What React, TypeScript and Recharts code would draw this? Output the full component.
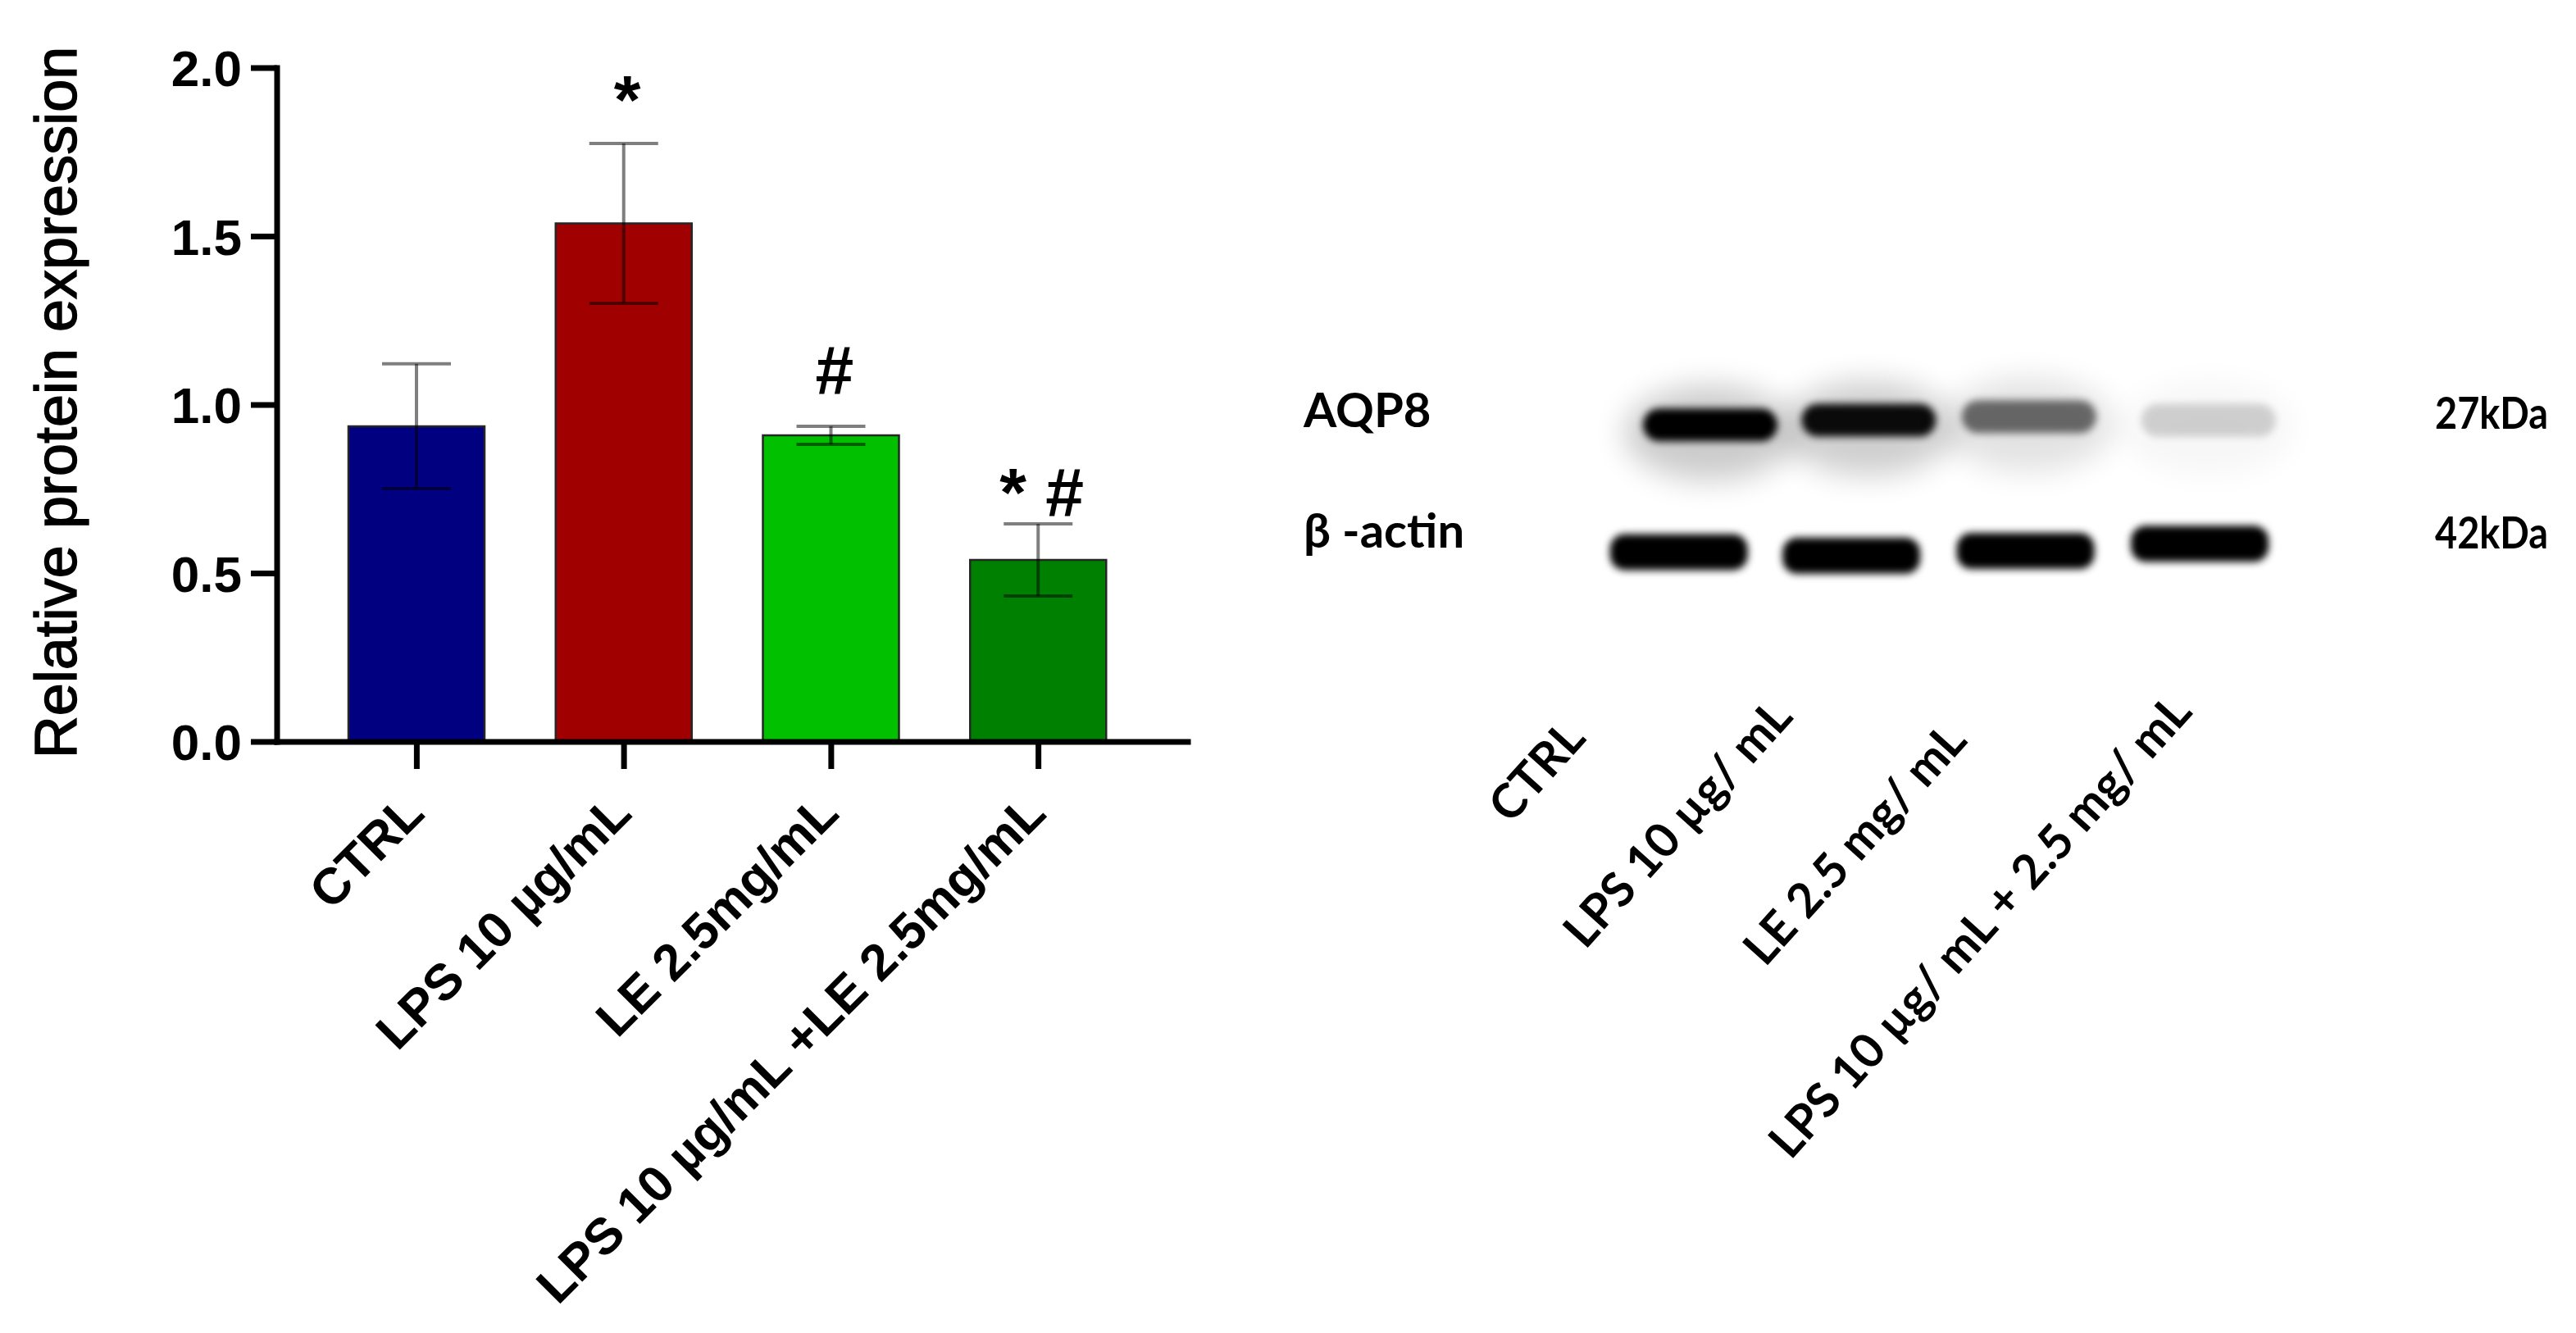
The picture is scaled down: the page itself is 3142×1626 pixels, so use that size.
import {
    ComposedChart, Bar, ErrorBar, Scatter, ScatterChart,
    XAxis, YAxis, Cell, Label
} from "recharts"

// bar chart values
const groups = ["CTRL", "LPS 10 µg/mL", "LE 2.5mg/mL", "LPS 10 µg/mL +LE 2.5mg/mL"]
const means = [0.937, 1.539, 0.91, 0.54]
const errors = [0.185, 0.237, 0.027, 0.107]
const signs = ["", "*", "#", "* #"]
const signHeights = [null, 1.835, 1.032, 0.669]
const yTicks = [0, 0.5, 1.0, 1.5, 2.0]

// western blot
const lanes = ["CTRL", "LPS 10 µg/ mL", "LE 2.5 mg/ mL", "LPS 10 µg/ mL + 2.5 mg/ mL"]
const laneTicks = [0.5, 1.5, 2.5, 3.5]
const aqp8Lane = [0.64, 1.55, 2.47, 3.5]
const aqp8Row = [1.46, 1.5, 1.53, 1.5]
const aqp8Density = [1, 0.95, 0.55, 0.16]
const actinLane = [0.46, 1.45, 2.45, 3.45]
const actinRow = [0.39, 0.36, 0.4, 0.46]
const actinDensity = [1, 1, 1, 1]
const proteins = ["AQP8", "β -actin"]
const weights = ["27kDa", "42kDa"]
const proteinRows = [1.58, 0.57]

const BAR_COLORS = ["#000080", "#a00000", "#00c000", "#008000"]
const ARIAL = "'Liberation Sans', Arial, Helvetica, sans-serif"
const CALIBRI = "Lato, 'Open Sans', sans-serif"
const LANE_DX = [-120, -80, -80, -18]
const LANE_Y = [522, 496, 525, 490]

const barData = groups.map((name, i) => ({
    name, mean: means[i], err: errors[i], sign: signs[i], signY: signHeights[i]
}))

const bandsAqp8 = lanes.map((_, i) => ({ x: aqp8Lane[i], y: aqp8Row[i], density: aqp8Density[i] }))
const bandsActin = lanes.map((_, i) => ({ x: actinLane[i], y: actinRow[i], density: actinDensity[i] }))

function CategoryTick({ x, payload }: any) {
    return (
        <text transform={`translate(${x + 12},995) rotate(-45)`} textAnchor="end"
            fontFamily={ARIAL} fontWeight={700} fontSize={62} fill="#000">
            {payload.value}
        </text>
    )
}

function SignShape({ cx, cy, payload }: any) {
    if (!payload.sign) return <g />
    return (
        <text x={cx + 4} y={cy} textAnchor="middle" fontFamily={ARIAL}
            fontWeight={700} fontSize={84} fill="#000">
            {payload.sign}
        </text>
    )
}

function YTitle() {
    return (
        <text transform="translate(93,491) rotate(-90)" textAnchor="middle"
            fontFamily={ARIAL} fontSize={72} fill="#000" stroke="#000" strokeWidth={1.4}>
            Relative protein expression
        </text>
    )
}

function Aqp8Band({ cx, cy, payload }: any) {
    const d = payload.density
    return (
        <g>
            <ellipse cx={cx} cy={cy + 10} rx={105} ry={58} fill="#000" opacity={0.2 * d} filter="url(#haze)" />
            <rect x={cx - 82} y={cy - 20} width={164} height={40} rx={20} fill="#000" opacity={d} filter="url(#soft)" />
        </g>
    )
}

function ActinBand({ cx, cy, payload }: any) {
    return (
        <rect x={cx - 84} y={cy - 22} width={168} height={44} rx={18}
            fill="#000" opacity={payload.density} filter="url(#soft)" />
    )
}

function RowTick({ y, payload }: any) {
    const i = proteinRows.indexOf(payload.value)
    return (
        <g fontFamily={CALIBRI} fontWeight={700} fill="#000">
            <text x={30} y={y} dy="0.35em" fontSize={58}>{proteins[i]}</text>
            <text x={1410} y={y} dy="0.4em" fontSize={54} textLength={138} lengthAdjust="spacingAndGlyphs">
                {weights[i]}
            </text>
        </g>
    )
}

function LaneTick({ x, payload }: any) {
    const i = laneTicks.indexOf(payload.value)
    return (
        <text transform={`translate(${x + LANE_DX[i]},${LANE_Y[i]}) rotate(-48)`} textAnchor="end"
            fontFamily={CALIBRI} fontWeight={700} fontSize={58} fill="#000">
            {lanes[i]}
        </text>
    )
}

export default function App() {
    return (
        <div style={{ position: "absolute", left: 0, top: 0, width: 3142, height: 1626, background: "#fff" }}>
            <div style={{ position: "absolute", left: 0, top: 0 }}>
                <ComposedChart width={1500} height={1626} data={barData}
                    margin={{ top: 83, right: 51, bottom: 0, left: 0 }}>
                    <XAxis dataKey="name" height={721} padding={{ left: 44, right: 56 }}
                        interval={0} tickSize={33}
                        axisLine={{ stroke: "#000", strokeWidth: 7, strokeLinecap: "square" }}
                        tickLine={{ stroke: "#000", strokeWidth: 7 }}
                        tick={CategoryTick} />
                    <YAxis width={338} domain={[0, 2]} ticks={yTicks} interval={0}
                        tickFormatter={(v: number) => v.toFixed(1)}
                        tickSize={32} tickMargin={11}
                        axisLine={{ stroke: "#000", strokeWidth: 7, strokeLinecap: "square" }}
                        tickLine={{ stroke: "#000", strokeWidth: 7 }}
                        tick={{ fontFamily: ARIAL, fontWeight: 700, fontSize: 62, fill: "#000" }}>
                        <Label content={YTitle} />
                    </YAxis>
                    <Bar dataKey="mean" barSize={166} stroke="#262626" strokeWidth={2.5} isAnimationActive={false}>
                        {barData.map((_, i) => <Cell key={i} fill={BAR_COLORS[i]} />)}
                        <ErrorBar dataKey="err" width={42} stroke="#000" strokeOpacity={0.5} strokeWidth={4} direction="y" />
                    </Bar>
                    <Scatter dataKey="signY" shape={SignShape} isAnimationActive={false} />
                </ComposedChart>
            </div>
            <div style={{ position: "absolute", left: 1560, top: 380 }}>
                <ScatterChart width={1582} height={1246} margin={{ top: 60, right: 342, bottom: 0, left: 0 }}>
                    <defs>
                        <filter id="soft" x="-30%" y="-80%" width="160%" height="260%">
                            <feGaussianBlur stdDeviation="5" />
                        </filter>
                        <filter id="haze" x="-60%" y="-100%" width="220%" height="300%">
                            <feGaussianBlur stdDeviation="18" />
                        </filter>
                    </defs>
                    <XAxis type="number" dataKey="x" domain={[0, 4]} ticks={laneTicks} interval={0}
                        height={896} axisLine={false} tickLine={false} tick={LaneTick} />
                    <YAxis type="number" dataKey="y" domain={[0, 2]} ticks={proteinRows}
                        interval={0} width={390} axisLine={false} tickLine={false} tick={RowTick} />
                    <Scatter data={bandsAqp8} shape={Aqp8Band} isAnimationActive={false} />
                    <Scatter data={bandsActin} shape={ActinBand} isAnimationActive={false} />
                </ScatterChart>
            </div>
        </div>
    )
}
